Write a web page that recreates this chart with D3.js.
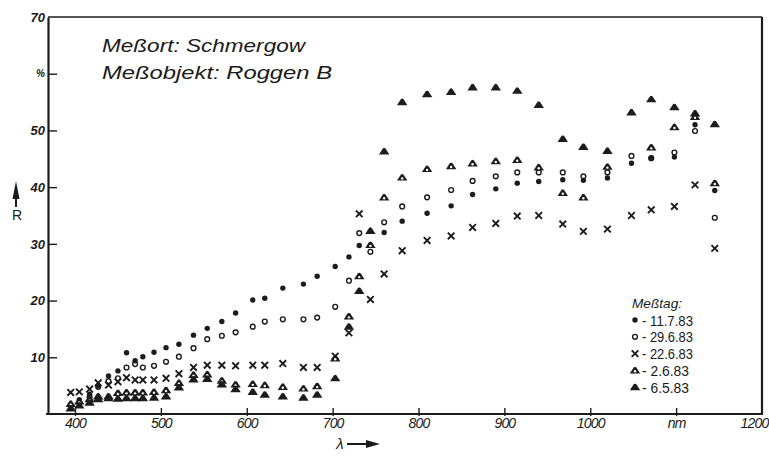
<!DOCTYPE html>
<html>
<head>
<meta charset="utf-8">
<script src="https://cdn.jsdelivr.net/npm/d3@7"></script>
<style>
  html, body { margin: 0; padding: 0; background: #fff; }
  svg { display: block; }
  text { font-family: "Liberation Sans", "DejaVu Sans", sans-serif; fill: #1a1a1a; }
</style>
</head>
<body>
<svg id="chart" width="769" height="456"></svg>
<script>
// Wavelengths (nm) of the measurement points
const wavelengths = [395, 405, 417, 427, 439, 450, 460, 470, 479, 492, 506, 521, 538, 554, 571, 587, 607, 621, 642, 666, 682, 703, 719, 731, 744, 760, 781, 810, 838, 863, 890, 915, 940, 968, 992, 1020, 1048, 1071, 1098, 1122, 1145];

// Reflectance R (%) per measuring day
const r_11_7_83 = [1.0, 2.5, 3.5, 5.0, 6.7, 7.6, 10.8, 9.4, 10.1, 10.9, 11.7, 12.3, 13.9, 15.1, 16.3, 17.8, 20.1, 20.4, 22.2, 22.9, 24.3, 26.0, 27.7, 29.7, 29.8, 32.0, 34.0, 35.4, 36.7, 38.7, 39.7, 40.7, 41.0, 41.3, 41.2, 41.6, 44.2, 45.1, 45.3, 51.0, 39.4];
const r_29_6_83 = [1.5, 2.0, 3.0, 4.8, 5.8, 6.3, 8.2, 8.8, 8.2, 8.5, 9.2, 10.1, 11.6, 13.2, 13.8, 14.4, 15.4, 16.3, 16.7, 16.7, 17.0, 18.9, 23.5, 31.9, 28.6, 33.8, 36.6, 38.2, 39.5, 41.1, 41.9, 42.6, 42.6, 42.6, 41.9, 42.6, 45.5, 45.1, 46.1, 49.9, 34.6];
const r_22_6_83 = [3.8, 3.9, 4.4, 5.5, 5.1, 5.7, 6.4, 6.0, 6.0, 6.0, 6.3, 7.1, 8.2, 8.6, 8.6, 8.5, 8.6, 8.6, 8.9, 8.2, 8.2, 10.2, 14.3, 35.3, 20.2, 24.7, 28.8, 30.6, 31.4, 32.9, 33.6, 34.9, 35.0, 33.5, 32.2, 32.6, 35.0, 36.0, 36.6, 40.4, 29.2];
const r_2_6_83 = [1.8, 2.2, 2.6, 3.1, 3.1, 3.7, 3.8, 3.8, 3.8, 3.9, 4.2, 5.5, 6.9, 7.0, 5.9, 5.2, 5.3, 5.1, 4.8, 4.5, 4.9, 9.8, 17.2, 24.3, 29.8, 38.2, 41.7, 43.2, 43.7, 44.2, 44.6, 44.8, 43.5, 39.0, 38.2, 43.6, null, 47.0, 50.6, 52.4, 40.7];
const r_6_5_83 = [1.0, 1.5, 2.0, 2.6, 2.8, 2.7, 2.8, 2.8, 2.8, 2.9, 3.1, 4.7, 6.1, 6.2, 5.2, 4.4, 3.9, 3.4, 3.1, 2.9, 3.4, 6.3, 15.4, 21.7, 32.3, 46.3, 55.0, 56.4, 56.8, 57.6, 57.6, 57.0, 54.5, 48.5, 47.1, 46.4, 53.2, 55.5, 54.1, 53.0, 51.1];

// Legend / series labels and marker kinds
const seriesLabels = ["- 11.7.83", "- 29.6.83", "- 22.6.83", "- 2.6.83", "- 6.5.83"];
const seriesMarkers = ["dot", "ring", "cross", "openTri", "tri"];
const seriesValues = [r_11_7_83, r_29_6_83, r_22_6_83, r_2_6_83, r_6_5_83];

// Axis ticks
const xTicks = [400, 500, 600, 700, 800, 900, 1000, 1100, 1200];
const xTickLabels = ["400", "500", "600", "700", "800", "900", "1000", "nm", "1200"];
const yTicks = [10, 20, 30, 40, 50, 60, 70];
const yTickLabels = ["10", "20", "30", "40", "50", "%", "70"];

const ink = "#1c1c1c";
const svg = d3.select("#chart");

const x = d3.scaleLinear().domain([400, 1200]).range([75, 762]);
const y = d3.scaleLinear().domain([0, 70]).range([414, 17]);
const xLeft = 48;

// Frame: top and right border lines
svg.append("line").attr("x1", xLeft).attr("x2", x(1200)).attr("y1", y(70)).attr("y2", y(70))
  .attr("stroke", ink).attr("stroke-width", 1.6);
svg.append("line").attr("x1", x(1200)).attr("x2", x(1200)).attr("y1", y(70)).attr("y2", y(0) + 1)
  .attr("stroke", ink).attr("stroke-width", 2.2);

// Y axis with inward ticks
const yAxis = d3.axisLeft(y).tickValues(yTicks).tickSizeInner(-9).tickSizeOuter(0).tickPadding(3)
  .tickFormat((d, i) => yTickLabels[i]);
const gy = svg.append("g").attr("transform", `translate(${xLeft},0)`).call(yAxis);
gy.select(".domain").attr("stroke", ink).attr("stroke-width", 2.2);
gy.selectAll(".tick line").attr("stroke", ink).attr("stroke-width", 1.4)
  .attr("display", d => d === 70 ? "none" : null);
gy.selectAll(".tick text").attr("font-weight", "bold").attr("fill", ink)
  .attr("font-family", "Liberation Sans, sans-serif").style("font-style", "italic")
  .attr("font-size", d => d === 60 ? 10 : 13);

// X axis with short ticks crossing the baseline
const xAxis = d3.axisBottom(x).tickValues(xTicks).tickSizeInner(-6).tickSizeOuter(0).tickPadding(4)
  .tickFormat((d, i) => xTickLabels[i]);
const gx = svg.append("g").attr("transform", `translate(0,${y(0)})`).call(xAxis);
gx.select(".domain").attr("d", `M${xLeft - 2},0H${x(1200) + 1}`).attr("stroke", ink).attr("stroke-width", 2.2);
gx.selectAll(".tick line").attr("stroke", ink).attr("stroke-width", 1.4).attr("y2", -6).attr("y1", 2)
  .attr("display", d => d === 1200 ? "none" : null);
gx.selectAll(".tick text").attr("fill", ink).attr("font-family", "Liberation Sans, sans-serif")
  .style("font-style", "italic").attr("font-size", 14).attr("letter-spacing", -0.8);
// the last label sits against the right edge of the sheet
gx.selectAll(".tick text").filter(d => d === 1200).attr("text-anchor", "end").attr("x", 768 - x(1200));

// Axis titles with arrows
svg.append("text").attr("x", 340).attr("y", 449).attr("text-anchor", "middle").attr("font-size", 15)
  .style("font-style", "italic").text("λ");
svg.append("path").attr("d", "M347,444H368").attr("stroke", ink).attr("stroke-width", 2);
svg.append("path").attr("d", "M366,440L380,444L366,448Z").attr("fill", ink);
svg.append("path").attr("d", "M16,198V207").attr("stroke", ink).attr("stroke-width", 2);
svg.append("path").attr("d", "M12.5,199L16,181L19.5,199Z").attr("fill", ink);
svg.append("text").attr("x", 17).attr("y", 220).attr("text-anchor", "middle").attr("font-size", 14)
  .style("font-style", "normal").text("R");

// Site / object caption
svg.append("text").attr("x", 102).attr("y", 52).attr("font-size", 19).attr("textLength", 203)
  .attr("lengthAdjust", "spacingAndGlyphs").style("font-style", "italic").text("Meßort: Schmergow");
svg.append("text").attr("x", 102).attr("y", 79).attr("font-size", 19).attr("textLength", 230)
  .attr("lengthAdjust", "spacingAndGlyphs").style("font-style", "italic").text("Meßobjekt: Roggen B");

// Marker shapes
function marker(g, kind, cx, cy) {
  if (kind === "dot") {
    g.append("circle").attr("cx", cx).attr("cy", cy).attr("r", 2.7).attr("fill", ink);
  } else if (kind === "ring") {
    g.append("circle").attr("cx", cx).attr("cy", cy).attr("r", 2.4).attr("fill", "none")
      .attr("stroke", ink).attr("stroke-width", 1.4);
  } else if (kind === "cross") {
    const s = 3.3;
    g.append("path").attr("d", `M${cx - s},${cy - s}L${cx + s},${cy + s}M${cx + s},${cy - s}L${cx - s},${cy + s}`)
      .attr("stroke", ink).attr("stroke-width", 1.9).attr("fill", "none");
  } else {
    const w = 5.2, h = 6.2;
    g.append("path").attr("d", `M${cx - w},${cy + h / 2}L${cx - 1.2},${cy - h / 2}Q${cx},${cy - h / 2 - 0.8} ${cx + 1.2},${cy - h / 2}L${cx + w},${cy + h / 2}Z`)
      .attr("fill", ink);
    if (kind === "openTri") {
      g.append("circle").attr("cx", cx).attr("cy", cy + 0.9).attr("r", 1.2).attr("fill", "#fff");
    }
  }
}

// Data points
seriesValues.forEach((vals, si) => {
  const g = svg.append("g").attr("class", "series-" + si);
  vals.forEach((v, i) => {
    if (v == null) return;
    marker(g, seriesMarkers[si], x(wavelengths[i]), y(v));
  });
});

// Legend
const lg = svg.append("g");
lg.append("text").attr("x", 632).attr("y", 308).attr("font-size", 13).attr("textLength", 50)
  .attr("lengthAdjust", "spacingAndGlyphs").style("font-style", "italic").text("Meßtag:");
seriesLabels.forEach((lab, i) => {
  const cy = 320 + i * 16.8;
  marker(lg, seriesMarkers[i], 635, cy);
  lg.append("text").attr("x", 642).attr("y", cy + 5.5).attr("font-size", 15).style("font-style", "normal")
    .attr("textLength", i >= 3 ? 47 : 51).attr("lengthAdjust", "spacingAndGlyphs").text(lab);
});
</script>
</body>
</html>
